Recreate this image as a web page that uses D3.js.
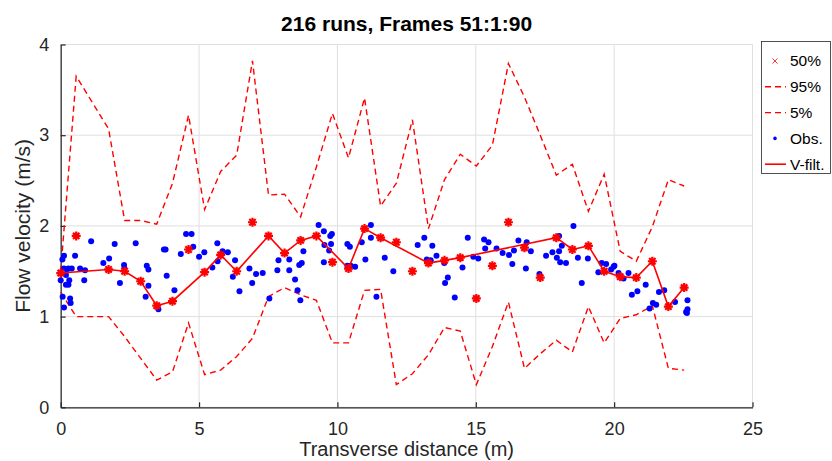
<!DOCTYPE html>
<html>
<head>
<meta charset="utf-8">
<script src="https://cdn.jsdelivr.net/npm/d3@7"></script>
<style>
  body { margin: 0; background: #fff; }
  svg { display: block; font-family: "Liberation Sans", Arial, Helvetica, sans-serif; }
</style>
</head>
<body>
<svg id="chart" width="832" height="461"></svg>
<script>
// station positions across the section (m)
const xPos = [0, 0.56, 1.73, 2.31, 2.89, 3.47, 4.04, 4.62, 5.2, 5.78, 6.36, 6.93, 7.51, 8.09, 8.67,
  9.24, 9.82, 10.4, 10.98, 11.56, 12.13, 12.71, 13.29, 13.87, 14.44, 15.02, 15.6, 16.18, 16.76,
  17.33, 17.91, 18.49, 19.07, 19.64, 20.22, 20.8, 21.38, 21.96, 22.53];

// percentiles of the runs at each station
const p50 = [1.48, 1.89, 1.52, 1.50, 1.39, 1.12, 1.17, 1.74, 1.49, 1.68, 1.50, 2.04, 1.89, 1.70, 1.84,
  1.89, 1.60, 1.53, 1.97, 1.87, 1.82, 1.50, 1.59, 1.62, 1.65, 1.20, 1.56, 2.04, 1.76,
  1.43, 1.87, 1.74, 1.78, 1.50, 1.44, 1.43, 1.61, 1.11, 1.32];
const p95 = [1.50, 3.65, 3.07, 2.06, 2.06, 2.02, 2.47, 3.22, 2.18, 2.60, 2.78, 3.82, 2.34, 2.35, 2.10,
  2.65, 3.24, 2.75, 3.41, 2.22, 2.47, 3.17, 1.97, 2.51, 2.79, 2.66, 2.89, 3.79, 3.42,
  3.00, 2.56, 2.68, 2.16, 2.57, 1.72, 1.61, 1.99, 2.51, 2.44];
const p05 = [1.27, 1.00, 1.00, 0.78, 0.54, 0.30, 0.39, 0.93, 0.36, 0.41, 0.56, 0.76, 1.22, 1.32, 1.24,
  1.18, 0.71, 0.71, 1.29, 1.30, 0.25, 0.37, 0.58, 0.88, 0.84, 0.25, 0.67, 1.16, 0.43,
  0.59, 0.74, 0.61, 1.11, 0.71, 0.98, 1.02, 1.12, 0.43, 0.41];

// filtered velocity profile
const filtX = [0, 1.73, 2.31, 2.89, 3.47, 4.04, 5.2, 5.78, 6.36, 7.51, 8.09, 8.67, 9.24, 10.4, 10.98,
  11.56, 13.29, 13.87, 14.44, 17.91, 18.49, 19.07, 19.64, 20.22, 20.8, 21.38, 21.96, 22.53];
const filtY = [1.48, 1.52, 1.50, 1.39, 1.12, 1.17, 1.49, 1.68, 1.50, 1.89, 1.70, 1.84, 1.89, 1.53, 1.97,
  1.87, 1.59, 1.62, 1.65, 1.87, 1.74, 1.78, 1.50, 1.44, 1.43, 1.61, 1.11, 1.32];

// observed velocities
const obsX = [0.06, 0.12, 0.0, 0.12, 0.19, 0.22, 0.28, 0.40, 0.07, 0.12, 0.19, 0.28, 0.34, 0.36, 0.31,
  0.52, 0.70, 0.85, 0.88, 1.10, 1.54, 1.75, 1.95, 2.14, 2.29, 2.30, 2.71, 3.11, 3.17, 3.07, 3.17,
  3.53, 3.73, 3.79, 3.83, 4.11, 4.34, 4.53, 4.73, 4.79, 5.00, 5.19, 5.48, 5.66, 5.67, 5.85, 6.04,
  6.22, 6.30, 6.46, 6.82, 6.92, 7.06, 7.30, 7.54, 7.83, 7.87,
  8.26, 8.26, 8.47, 8.56, 8.62, 8.71, 8.66, 8.77, 9.32, 9.51, 9.51, 9.53, 9.70, 9.74, 9.80, 9.77,
  10.36, 10.45, 10.36, 10.48, 10.64, 10.88, 11.01, 11.21, 11.21, 11.41, 11.71, 12.02, 12.90, 13.14,
  13.43, 13.58, 13.23, 13.37, 13.86, 13.89, 13.99, 14.24, 14.52, 14.71, 14.91, 15.09, 15.30, 15.46,
  15.34, 15.75,
  15.97, 16.20, 16.32, 16.38, 16.54, 16.81, 16.84, 16.99, 17.30, 17.54, 17.77, 17.93, 18.01, 18.05,
  18.11, 18.01, 18.26, 18.53, 18.69, 18.83, 19.05, 19.43, 19.55, 19.71, 19.89, 19.98, 20.01, 20.16,
  20.34, 20.52, 20.64, 20.84, 21.14, 21.28, 21.40, 21.52, 21.62, 21.81, 22.20, 22.65, 22.60, 22.63,
  22.65];
const obsY = [1.63, 1.67, 1.40, 1.53, 1.46, 1.52, 1.53, 1.53, 1.22, 1.10, 1.35, 1.35, 1.20, 1.15, 1.40,
  1.67, 1.53, 1.40, 1.51, 1.83, 1.59, 1.64, 1.80, 1.37, 1.57, 1.53, 1.81, 1.56, 1.52, 1.22, 1.34,
  1.08, 1.74, 1.74, 1.45, 1.29, 1.69, 1.91, 1.91, 1.77, 1.66, 1.71, 1.54, 1.81, 1.61, 1.72, 1.71,
  1.44, 1.62, 1.28, 1.53, 1.37, 1.47, 1.48, 1.20, 1.51, 1.62,
  1.63, 1.51, 1.41, 1.29, 1.57, 1.59, 1.18, 1.72, 2.01, 1.94, 1.60, 1.79, 1.73, 1.89, 1.91, 1.80,
  1.80, 1.77, 1.56, 1.56, 1.55, 1.82, 1.63, 2.01, 1.87, 1.22, 1.65, 1.50, 1.79, 1.87,
  1.78, 1.67, 1.63, 1.62, 1.59, 1.37, 1.43, 1.21, 1.54, 1.87, 1.66, 1.64, 1.85, 1.82,
  1.75, 1.75,
  1.70, 1.68, 1.58, 1.73, 1.84, 1.53, 1.82, 1.72, 1.47, 1.67, 1.71, 1.65, 1.72, 1.60,
  1.78, 1.89, 1.59, 2.00, 1.65, 1.37, 1.64, 1.49, 1.59, 1.58, 1.52, 1.55, 1.56, 1.48,
  1.42, 1.48, 1.24, 1.28, 1.35, 1.09, 1.15, 1.13, 1.27, 1.29, 1.16, 1.18, 1.05, 1.04,
  1.08];

const xTicks = [0, 5, 10, 15, 20, 25];
const yTicks = [0, 1, 2, 3, 4];
const legendLabels = ['50%', '95%', '5%', 'Obs.', 'V-filt.'];

const w = 832;
const h = 461;
const margin = { top: 44.5, right: 79.5, bottom: 53.7, left: 60.7 };
const red = '#ff0000';
const blue = '#0000ff';

const svg = d3.select('#chart');

const xScale = d3.scaleLinear().domain([0, 25]).range([margin.left, w - margin.right]);
const yScale = d3.scaleLinear().domain([0, 4]).range([h - margin.bottom, margin.top]);

// grid
const grid = svg.append('g').attr('stroke', '#dfdfdf').attr('stroke-width', 1);
grid.selectAll('.gx').data(xTicks).enter().append('line')
  .attr('x1', d => xScale(d)).attr('x2', d => xScale(d))
  .attr('y1', yScale(0)).attr('y2', yScale(4));
grid.selectAll('.gy').data(yTicks).enter().append('line')
  .attr('x1', xScale(0)).attr('x2', xScale(25))
  .attr('y1', d => yScale(d)).attr('y2', d => yScale(d));

// axes
const xAxis = svg.append('g')
  .attr('transform', `translate(0, ${yScale(0)})`)
  .call(d3.axisBottom(xScale).tickValues(xTicks).tickFormat(d3.format('d'))
    .tickSize(-5).tickSizeOuter(0).tickPadding(14.5));
const yAxis = svg.append('g')
  .attr('transform', `translate(${xScale(0)}, 0)`)
  .call(d3.axisLeft(yScale).tickValues(yTicks).tickFormat(d3.format('d'))
    .tickSize(-5).tickSizeOuter(0).tickPadding(11.5));

[xAxis, yAxis].forEach(a => {
  a.select('.domain').attr('stroke', '#262626').attr('stroke-width', 1.2);
  a.selectAll('.tick line').attr('stroke', '#262626').attr('stroke-width', 1.2);
  a.selectAll('.tick text').attr('fill', '#262626').style('font-size', '18px')
    .style('font-family', '"Liberation Sans", Arial, sans-serif');
});

const plot = svg.append('g');

const line = d3.line().x(d => xScale(d[0])).y(d => yScale(d[1]));

// 95% and 5% bands
[p95, p05].forEach(series => {
  plot.append('path')
    .datum(xPos.map((d, i) => [d, series[i]]))
    .attr('d', line)
    .attr('fill', 'none')
    .attr('stroke', red)
    .attr('stroke-width', 1.4)
    .attr('stroke-dasharray', '6,4');
});

// observations
plot.selectAll('.obs')
  .data(obsX.map((d, i) => [d, obsY[i]]))
  .enter()
  .append('circle')
  .attr('class', 'obs')
  .attr('cx', d => xScale(d[0]))
  .attr('cy', d => yScale(d[1]))
  .attr('r', 3)
  .attr('fill', blue);

// filtered line
plot.append('path')
  .datum(filtX.map((d, i) => [d, filtY[i]]))
  .attr('d', line)
  .attr('fill', 'none')
  .attr('stroke', red)
  .attr('stroke-width', 1.6);

// 50% markers (asterisks)
function asterisk(r) {
  const d = r * 0.7071;
  return `M${-r},0L${r},0M0,${-r}L0,${r}M${-d},${-d}L${d},${d}M${-d},${d}L${d},${-d}`;
}
plot.selectAll('.med')
  .data(xPos.map((d, i) => [d, p50[i]]))
  .enter()
  .append('path')
  .attr('class', 'med')
  .attr('transform', d => `translate(${xScale(d[0])}, ${yScale(d[1])})`)
  .attr('d', asterisk(4.5))
  .attr('stroke', red)
  .attr('stroke-width', 2.2)
  .attr('fill', 'none');

// title and labels
svg.append('text')
  .attr('x', (xScale(0) + xScale(25)) / 2)
  .attr('y', 30.5)
  .attr('text-anchor', 'middle')
  .style('font-size', '21px')
  .style('font-weight', 'bold')
  .attr('fill', '#000')
  .text('216 runs, Frames 51:1:90');

svg.append('text')
  .attr('x', (xScale(0) + xScale(25)) / 2)
  .attr('y', 456.3)
  .attr('text-anchor', 'middle')
  .style('font-size', '20px')
  .attr('fill', '#262626')
  .text('Transverse distance (m)');

svg.append('text')
  .attr('transform', `translate(30, ${(yScale(0) + yScale(4)) / 2}) rotate(-90)`)
  .attr('text-anchor', 'middle')
  .style('font-size', '21px')
  .attr('fill', '#262626')
  .text('Flow velocity (m/s)');

// legend
const legend = svg.append('g');
legend.append('rect')
  .attr('x', 761.5).attr('y', 41.5)
  .attr('width', 69).attr('height', 132)
  .attr('fill', '#fff')
  .attr('stroke', '#262626')
  .attr('stroke-width', 0.8);

const rows = legend.selectAll('.row')
  .data(legendLabels)
  .enter()
  .append('g')
  .attr('transform', (d, i) => `translate(0, ${61 + i * 25.8})`);

rows.append('text')
  .attr('x', 790)
  .attr('dy', '0.35em')
  .style('font-size', '15.5px')
  .attr('fill', '#000')
  .text(d => d);

rows.each(function (d, i) {
  const g = d3.select(this);
  if (i === 0) {
    g.append('path').attr('transform', 'translate(775,0)')
      .attr('d', 'M-2.5,-2.5L2.5,2.5M-2.5,2.5L2.5,-2.5')
      .attr('stroke', red).attr('stroke-width', 0.8);
  } else if (i === 1 || i === 2) {
    g.append('line').attr('x1', 765).attr('x2', 786)
      .attr('stroke', red).attr('stroke-width', 1.4).attr('stroke-dasharray', '6,4');
  } else if (i === 3) {
    g.append('circle').attr('cx', 775).attr('r', 1.8).attr('fill', blue);
  } else {
    g.append('line').attr('x1', 765).attr('x2', 786)
      .attr('stroke', red).attr('stroke-width', 1.6);
  }
});
</script>
</body>
</html>
